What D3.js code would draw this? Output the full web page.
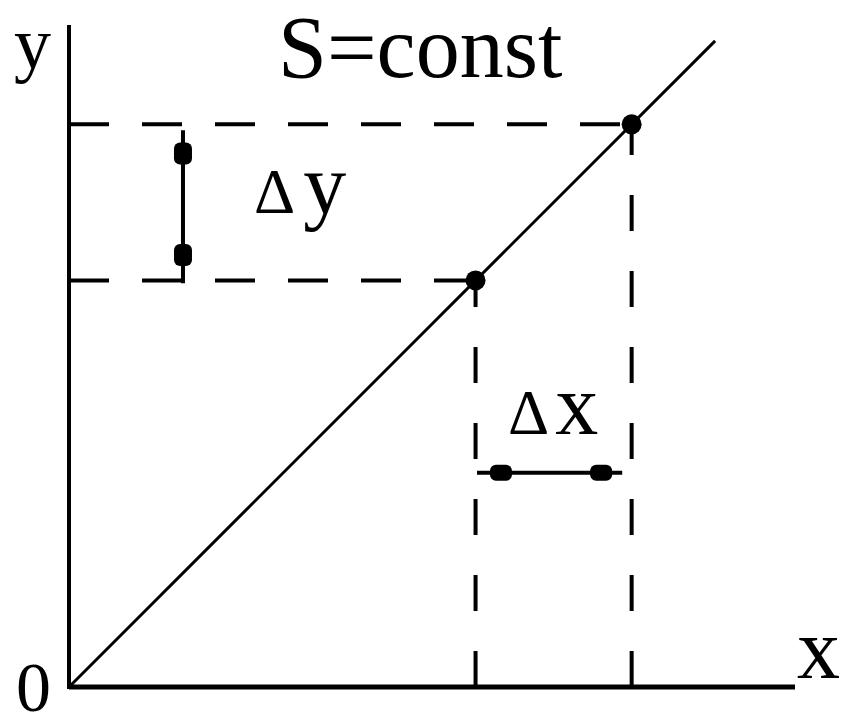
<!DOCTYPE html>
<html>
<head>
<meta charset="utf-8">
<script src="https://cdn.jsdelivr.net/npm/d3@7"></script>
<style>
  body { margin: 0; background: #fff; }
  svg { display: block; }
  text { font-family: "Liberation Serif", "DejaVu Serif", serif; fill: #000; }
</style>
</head>
<body>
<svg id="chart"></svg>
<script>
// values in chart units (both axes share the same unit, line is y = x)
var lineX = [0, 89];
var pointX = [56, 77.5];
var dyArrowX = 15.7;
var dyArrowRange = [55.6, 76.7];
var dyHeads = [59.5, 73.5];
var dxArrowY = 29.5;
var dxArrowRange = [56.2, 76.2];
var dxHeads = [59.5, 73.3];
var xAxisMax = 100;
var yAxisMax = 91.2;

var width = 842;
var height = 727;

var svg = d3.select("#chart")
	.attr("width", width)
	.attr("height", height);

var xScale = d3.scaleLinear().domain([0, 100]).range([69, 795]);
var yScale = d3.scaleLinear().domain([0, 100]).range([687, -39]);

// Dashed guides (drawn first so axes sit over them)
var guides = svg.append("g")
	.attr("stroke", "#000")
	.attr("stroke-width", 4)
	.attr("fill", "none");

guides.selectAll("line.h")
	.data(pointX)
	.enter()
	.append("line")
	.attr("class", "h")
	.attr("x1", xScale(0))
	.attr("y1", function(d) { return yScale(d); })
	.attr("x2", function(d) { return xScale(d); })
	.attr("y2", function(d) { return yScale(d); })
	.attr("stroke-dasharray", "40,33");

guides.selectAll("line.v")
	.data(pointX)
	.enter()
	.append("line")
	.attr("class", "v")
	.attr("x1", function(d) { return xScale(d); })
	.attr("y1", yScale(0))
	.attr("x2", function(d) { return xScale(d); })
	.attr("y2", function(d) { return yScale(d); })
	.attr("stroke-dasharray", "36,40");

// Axes
svg.append("line")
	.attr("x1", xScale(0)).attr("y1", yScale(0))
	.attr("x2", xScale(xAxisMax)).attr("y2", yScale(0))
	.attr("stroke", "#000").attr("stroke-width", 5);

svg.append("line")
	.attr("x1", xScale(0)).attr("y1", yScale(0) + 2)
	.attr("x2", xScale(0)).attr("y2", yScale(yAxisMax))
	.attr("stroke", "#000").attr("stroke-width", 4);

// S = const line
svg.append("path")
	.datum(lineX)
	.attr("d", d3.line()
		.x(function(d) { return xScale(d); })
		.y(function(d) { return yScale(d); }))
	.attr("stroke", "#000")
	.attr("stroke-width", 3)
	.attr("fill", "none");

svg.selectAll("circle.pt")
	.data(pointX)
	.enter()
	.append("circle")
	.attr("class", "pt")
	.attr("cx", function(d) { return xScale(d); })
	.attr("cy", function(d) { return yScale(d); })
	.attr("r", 10);

// Δy arrow
svg.append("line")
	.attr("x1", xScale(dyArrowX)).attr("y1", yScale(dyArrowRange[0]))
	.attr("x2", xScale(dyArrowX)).attr("y2", yScale(dyArrowRange[1]))
	.attr("stroke", "#000").attr("stroke-width", 4);

svg.selectAll("rect.dyh")
	.data(dyHeads)
	.enter()
	.append("rect")
	.attr("class", "dyh")
	.attr("x", xScale(dyArrowX) - 9)
	.attr("y", function(d) { return yScale(d) - 11; })
	.attr("width", 18)
	.attr("height", 22)
	.attr("rx", 6);

// Δx arrow
svg.append("line")
	.attr("x1", xScale(dxArrowRange[0])).attr("y1", yScale(dxArrowY))
	.attr("x2", xScale(dxArrowRange[1])).attr("y2", yScale(dxArrowY))
	.attr("stroke", "#000").attr("stroke-width", 4);

svg.selectAll("rect.dxh")
	.data(dxHeads)
	.enter()
	.append("rect")
	.attr("class", "dxh")
	.attr("x", function(d) { return xScale(d) - 11; })
	.attr("y", yScale(dxArrowY) - 8)
	.attr("width", 22)
	.attr("height", 16)
	.attr("rx", 6);

// Labels
svg.append("text")
	.attr("x", 278).attr("y", 77)
	.style("font-size", "88px")
	.text("S=const");

svg.append("text")
	.attr("x", 14).attr("y", 68)
	.style("font-size", "74px")
	.text("y");

svg.append("text")
	.attr("x", 797).attr("y", 678)
	.style("font-size", "86px")
	.text("x");

svg.append("text")
	.attr("x", 16).attr("y", 711)
	.style("font-size", "70px")
	.text("0");

var dy = svg.append("text")
	.attr("x", 254).attr("y", 213);
dy.append("tspan").style("font-size", "64px").text("Δ");
dy.append("tspan").attr("dx", 8).style("font-size", "86px").text("y");

var dx = svg.append("text")
	.attr("x", 508).attr("y", 434);
dx.append("tspan").style("font-size", "64px").text("Δ");
dx.append("tspan").attr("dx", 6).style("font-size", "86px").text("x");
</script>
</body>
</html>
